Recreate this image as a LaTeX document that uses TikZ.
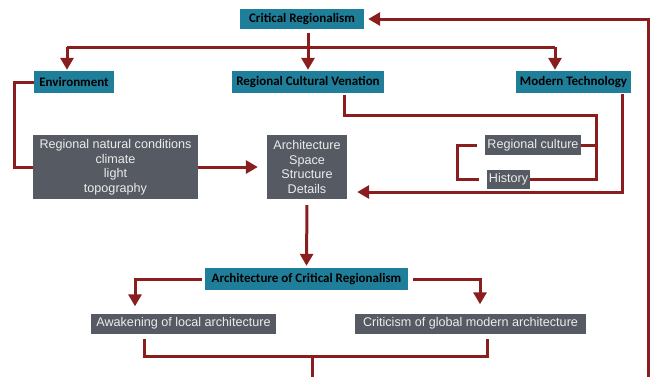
\documentclass[tikz,border=0pt]{standalone}
\usepackage{fontspec}
\setmainfont{Liberation Sans}
\newfontfamily\calfont{Carlito}
\usetikzlibrary{arrows.meta,calc}
\definecolor{tealbox}{HTML}{1F7F9B}
\definecolor{graybox}{HTML}{555A63}
\definecolor{linered}{HTML}{8A1E1E}
\definecolor{graytext}{HTML}{ECECEC}
\begin{document}
\begin{tikzpicture}[x=1pt,y=-1pt,
  tbox/.style={fill=tealbox, text=black, font=\calfont\bfseries\fontsize{13}{15}\selectfont, inner sep=0pt},
  gbox/.style={fill=graybox, text=graytext, font=\fontsize{12.6}{14.5}\selectfont, inner sep=0pt, align=center},
  ln/.style={draw=linered, line width=3pt},
  arr/.style={ln, -{Triangle[width=13pt,length=12pt]}}]
\useasboundingbox (0,0) rectangle (651,376);
% nodes
\node[tbox, minimum width=124pt, minimum height=20pt] (cr) at (302,19) {Critical Regionalism};
\node[tbox, minimum width=80pt, minimum height=22pt] (env) at (74,82) {Environment};
\node[tbox, minimum width=152pt, minimum height=22pt] (rcv) at (308,82) {Regional Cultural Venation};
\node[tbox, minimum width=115pt, minimum height=22pt] (mt) at (573.5,82) {Modern Technology};
\node[gbox, minimum width=165pt, minimum height=64pt] (nat) at (115.5,167) {Regional natural conditions\\climate\\light\\topography};
\node[gbox, minimum width=80pt, minimum height=64pt] (arch) at (307,167) {Architecture\\Space\\Structure\\Details};
\node[gbox, minimum width=96pt, minimum height=20pt] (rc) at (533,145) {Regional culture};
\node[gbox, minimum width=43pt, minimum height=19pt] (hist) at (508.5,179.5) {History};
\node[tbox, minimum width=203pt, minimum height=22pt] (acr) at (306.5,279) {Architecture of Critical Regionalism};
\node[gbox, minimum width=185pt, minimum height=20pt] (awk) at (183.5,323.5) {Awakening of local architecture};
\node[gbox, minimum width=231pt, minimum height=20pt] (crit) at (470.5,323.5) {Criticism of global modern architecture};
% helper coordinates
\coordinate (bl) at (67,47);
\coordinate (br) at (555,47);
\coordinate (rr) at (596,115);
\coordinate (mtrow) at (0,192);
\coordinate (al) at (135,0);
\coordinate (ar) at (480,0);
\coordinate (mid) at (312,356);
\coordinate (bot) at (312,377);
\coordinate (rb) at (648,377);
% connectors
\draw[ln] (bl) -- (br);
\draw[arr, shorten >=1pt] (bl) -- (bl |- env.north);
\draw[arr, shorten <=4pt, shorten >=1pt] (cr.south -| rcv.north) -- (rcv.north);
\draw[arr, shorten >=1pt] (br) -- (br |- mt.north);
\draw[ln] (env.west) -- ++(-19,0) |- (nat.west);
\draw[arr, shorten >=9pt] (nat.east) -- (arch.west);
\draw[ln, shorten <=2pt] ([xshift=36pt]rcv.south) |- (rr) |- (hist.east);
\draw[ln] (rc.east) -- (rc.east -| rr);
\draw[ln] ([xshift=-8pt]rc.west) -- ++(-19,0) |- ([xshift=-8pt]hist.west);
\draw[arr, shorten <=1pt, shorten >=10pt] ([xshift=48.5pt]mt.south) |- (arch.east |- mtrow);
\draw[arr, shorten <=6pt, shorten >=2pt] (arch.south) -- (acr.north);
\draw[arr, shorten <=3pt, shorten >=7pt] (acr.west) -| (al |- awk.north);
\draw[arr, shorten <=5pt, shorten >=9pt] (acr.east) -| (ar |- crit.north);
\draw[ln, shorten <=5pt, shorten >=5pt] ([xshift=-39.5pt]awk.south) -- ++(0,22.5) -| ([xshift=16.5pt]crit.south);
\draw[ln] (mid) -- (bot);
\draw[arr, shorten >=4pt] (rb) |- (cr.east);
\end{tikzpicture}
\end{document}
